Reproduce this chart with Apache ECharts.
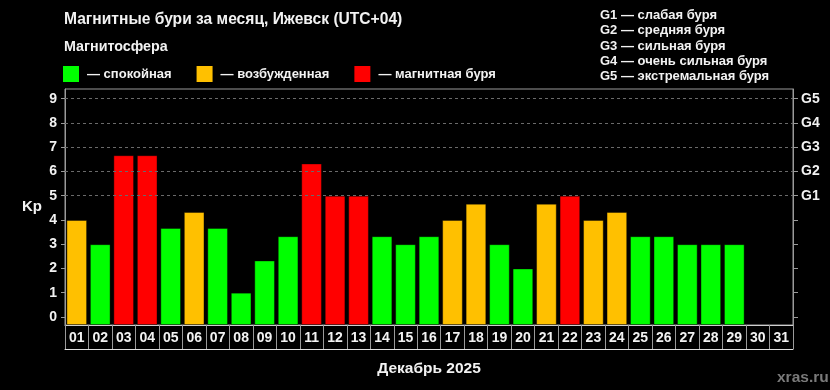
<!DOCTYPE html>
<html><head><meta charset="utf-8">
<script src="https://cdn.jsdelivr.net/npm/echarts@6/dist/echarts.min.js"></script>
<style>html,body{margin:0;padding:0;background:#000;}#c{width:830px;height:390px;}</style>
</head><body><div id="c"></div>
<script>
const days = ['01','02','03','04','05','06','07','08','09','10','11','12','13','14','15','16','17','18','19','20','21','22','23','24','25','26','27','28','29','30','31'];
const kp = [4, 3, 6.67, 6.67, 3.67, 4.33, 3.67, 1, 2.33, 3.33, 6.33, 5, 5, 3.33, 3, 3.33, 4, 4.67, 3, 2, 4.67, 5, 4, 4.33, 3.33, 3.33, 3, 3, 3, null, null];
const kpTicks = [0,1,2,3,4,5,6,7,8,9];
const gLevels = [5,6,7,8,9];
const gLabels = ['G1','G2','G3','G4','G5'];
const gDescriptions = ['G1 — слабая буря','G2 — средняя буря','G3 — сильная буря','G4 — очень сильная буря','G5 — экстремальная буря'];
const stateNames = ['— спокойная','— возбужденная','— магнитная буря'];
const stateColors = ['#00ff00','#ffc000','#ff0000'];
const stateLimits = [4, 5];
const titleText = 'Магнитные бури за месяц, Ижевск (UTC+04)';
const subTitle = 'Магнитосфера';
const monthLabel = 'Декабрь 2025';
const source = 'xras.ru';

function colorFor(v){
  if (v >= stateLimits[1]) return stateColors[2];
  if (v >= stateLimits[0]) return stateColors[1];
  return stateColors[0];
}
const FONT = '"Liberation Sans", Arial, sans-serif';
const chart = echarts.init(document.getElementById('c'));
const yMin = -1/3, yMax = 9.4;
const opt = {
  backgroundColor: '#000',
  animation: false,
  textStyle: {fontFamily: FONT},
  title: [
    {text: titleText, left: 59, top: 7, textStyle: {color:'#f2f2f2', fontSize: 15.6, fontWeight:'bold', fontFamily: FONT}},
    {text: subTitle, left: 59, top: 35, textStyle: {color:'#f2f2f2', fontSize: 14.3, fontWeight:'bold', fontFamily: FONT}},
    {text: gDescriptions.join('\n'), left: 595, top: 3, textStyle: {color:'#f2f2f2', fontSize: 13, fontWeight:'bold', lineHeight: 15.2, fontFamily: FONT}},
    {text: source, left: 772, top: 365, textStyle: {color:'#7a7a7a', fontSize: 15.5, fontWeight:'bold', fontFamily: FONT}}
  ],
  legend: {
    left: 63, top: 66, padding: 0, icon: 'rect', itemWidth: 16, itemHeight: 16, itemGap: 25,
    textStyle: {color:'#f2f2f2', fontSize: 13, fontWeight:'bold', fontFamily: FONT, padding:[0,0,0,3]},
    selectedMode: false,
    data: stateNames
  },
  grid: {left: 65, right: 37, top: 89, bottom: 65, show: true, borderColor: '#9a9a9a', borderWidth: 1, containLabel: false},
  xAxis: [
    {type:'category', data: days, position:'bottom',
     name: monthLabel, nameLocation: 'middle', nameGap: 36,
     nameTextStyle: {color:'#f2f2f2', fontSize: 15.5, fontWeight:'bold', fontFamily: FONT},
     axisLine: {onZero: false, lineStyle: {color:'#cfcfcf', width: 1}},
     axisTick: {show: true, alignWithLabel: false, length: 24, lineStyle: {color:'#9a9a9a', width: 1}},
     axisLabel: {color:'#f2f2f2', fontSize: 14, fontWeight:'bold', margin: 6, fontFamily: FONT}},
    {type:'category', data: days, position:'bottom', offset: 24,
     axisLine: {show: true, onZero: false, lineStyle: {color:'#e0e0e0', width: 1}},
     axisTick: {show:false}, axisLabel: {show:false}}
  ],
  yAxis: [
    {type:'value', min: yMin, max: yMax, startValue: yMin,
     name: 'Kp', nameLocation: 'middle', nameRotate: 0, nameGap: 23,
     nameTextStyle: {color:'#f2f2f2', fontSize: 15, fontWeight:'bold', fontFamily: FONT},
     axisLine: {show: true, lineStyle: {color:'#9a9a9a'}},
     axisTick: {show: true, length: 4, customValues: kpTicks, lineStyle: {color:'#9a9a9a'}},
     axisLabel: {color:'#f2f2f2', fontSize: 14, fontWeight:'bold', margin: 8, customValues: kpTicks, fontFamily: FONT},
     splitLine: {show: false}},
    {type:'value', min: yMin, max: yMax, position:'right',
     axisLine: {show: true, lineStyle: {color:'#9a9a9a'}},
     axisTick: {show: true, length: 5, customValues: kpTicks, lineStyle: {color:'#9a9a9a'}},
     axisLabel: {color:'#f2f2f2', fontSize: 14, fontWeight:'bold', margin: 8, customValues: gLevels,
       formatter: v => gLabels[gLevels.indexOf(Math.round(v))] || '', fontFamily: FONT},
     splitLine: {show: false}}
  ],
  series: [
    {type:'bar', name:'Kp', data: kp.map(v => v == null ? null : {value: v, itemStyle: {color: colorFor(v)}}),
     barWidth: '88%',
     itemStyle: {borderColor: 'rgba(0,0,0,0.4)', borderWidth: 1},
     markLine: {silent: true, symbol: 'none', label: {show:false},
       lineStyle: {color:'#6a6a6a', type:[3,3], width: 1},
       data: gLevels.map(v => ({yAxis: v}))}
    },
    ...stateNames.map((n,i) => ({type:'line', name: n, data: [], itemStyle: {color: stateColors[i]}, lineStyle:{color: stateColors[i]}}))
  ]
};
chart.setOption(opt);
</script></body></html>
